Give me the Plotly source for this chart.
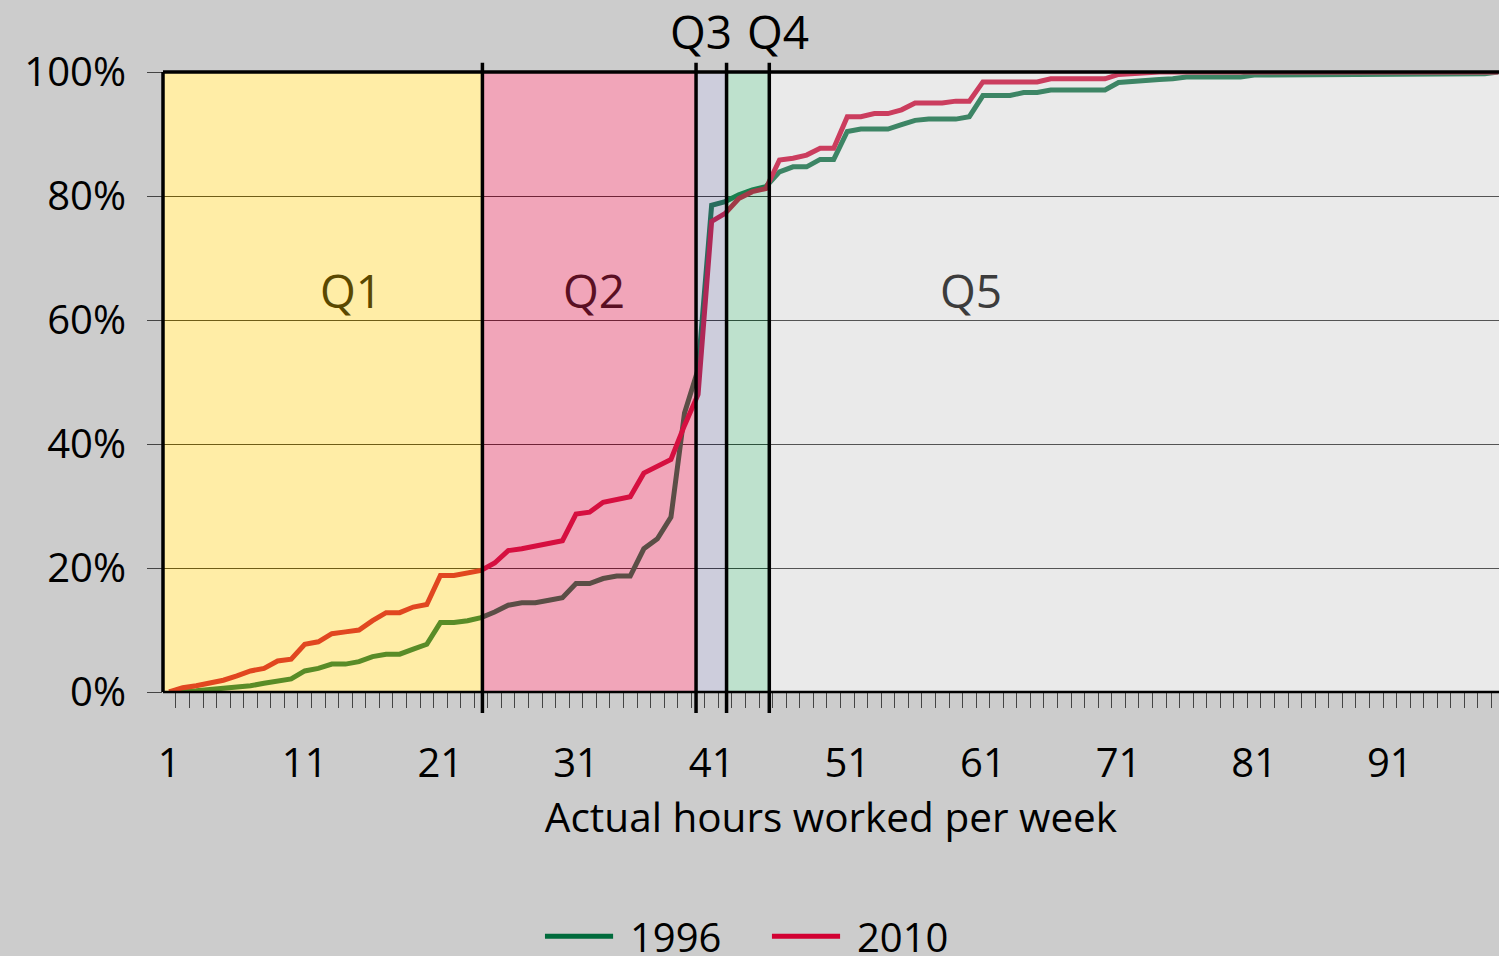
import plotly.graph_objects as go

# hours worked per week (1..99) and cumulative share of workers (%)
hours = list(range(1, 100))

share_1996 = [
    0, 0, 0.2, 0.4, 0.6, 0.6, 1.0, 1.4, 1.8, 2.1,
    3.4, 3.8, 4.5, 4.5, 4.9, 5.7, 6.1, 6.1, 6.9, 7.7,
    11.2, 11.2, 11.5, 12.0, 12.9, 14.0, 14.4, 14.4, 14.8, 15.2,
    17.5, 17.5, 18.3, 18.7, 18.7, 23.1, 24.7, 28.2, 45.0, 52.0,
    78.5, 79.1, 80.2, 81.0, 81.5, 83.9, 84.7, 84.7, 85.9, 85.9,
    90.4, 90.8, 90.8, 90.8, 91.5, 92.2, 92.4, 92.4, 92.4, 92.8,
    96.2, 96.2, 96.2, 96.7, 96.7, 97.1, 97.1, 97.1, 97.1, 97.1,
    98.3, 98.5, 98.8, 98.8, 98.9, 99.2, 99.2, 99.2, 99.2, 99.2,
    99.5, 99.5, 99.5, 99.5, 99.5, 99.5, 99.5, 99.5, 99.5, 99.5,
    99.5, 99.7, 99.7, 99.7, 99.7, 99.7, 99.7, 99.7, 100,
]

share_2010 = [
    0, 0.7, 1.0, 1.4, 1.9, 2.6, 3.4, 3.8, 5.0, 5.3,
    7.7, 8.1, 9.4, 9.7, 10.0, 11.5, 12.8, 12.8, 13.7, 14.1,
    18.8, 18.8, 19.1, 19.6, 20.8, 22.8, 23.1, 23.5, 24.0, 24.4,
    28.7, 29.0, 30.6, 31.0, 31.5, 35.3, 36.3, 37.5, 43.0, 48.0,
    75.9, 77.2, 79.6, 80.7, 81.2, 85.8, 86.1, 86.6, 87.7, 87.7,
    92.8, 92.8, 93.3, 93.3, 93.9, 95.0, 95.0, 95.0, 95.3, 95.3,
    98.4, 98.4, 98.4, 98.4, 98.4, 98.9, 98.9, 98.9, 98.9, 98.9,
    99.6, 99.8, 99.9, 100, 100, 100, 100, 100, 100, 100,
    100, 100, 100, 100, 100, 100, 100, 100, 100, 100,
    100, 100, 100, 100, 100, 100, 100, 100, 100,
]

# quintile boundaries (hours)
quintile_edges = [0.55, 24.1, 39.85, 42.1, 45.25, 99.05]
quintile_fills = [
    "rgba(255,204,0,0.35)",
    "rgba(220,37,85,0.41)",
    "rgba(111,111,154,0.35)",
    "rgba(69,169,111,0.35)",
    "rgba(189,189,189,0.32)",
]

series_names = ["1996", "2010"]
series_colors = ["#006B3C", "#D20032"]

FONT = "Open Sans"

fig = go.Figure()
for name, ys, col in zip(series_names, [share_1996, share_2010], series_colors):
    fig.add_trace(go.Scatter(x=hours, y=ys, name=name, mode="lines",
                             line=dict(color=col, width=5), showlegend=False))

# translucent quintile bands laid over the lines
for i, fill in enumerate(quintile_fills):
    fig.add_shape(type="rect", xref="x", yref="y", layer="above",
                  x0=quintile_edges[i], x1=quintile_edges[i + 1], y0=0, y1=100,
                  fillcolor=fill, line=dict(width=0))

# frame
fig.add_shape(type="line", xref="paper", yref="paper", layer="above",
              x0=0, x1=1, y0=1, y1=1, line=dict(color="black", width=3.5))
fig.add_shape(type="line", xref="paper", yref="paper", layer="above",
              x0=0, x1=0, y0=0, y1=1, line=dict(color="black", width=3.5))
fig.add_shape(type="line", xref="paper", yref="paper", layer="above",
              x0=0, x1=1, y0=0, y1=0, line=dict(color="black", width=2.5))

# boundary lines
for edge in quintile_edges[1:-1]:
    fig.add_shape(type="line", xref="x", yref="paper", layer="above",
                  x0=edge, x1=edge, y0=-0.034, y1=1.015,
                  line=dict(color="black", width=3.5))

# quintile labels
inside = {"Q1": (14.4, "#5A4800"), "Q2": (32.3, "#5A0F23"), "Q5": (60.1, "#3C3C3C")}
for lab, (xpos, col) in inside.items():
    fig.add_annotation(x=xpos, y=64.8, text=lab, showarrow=False,
                       font=dict(family=FONT, size=46, color=col))
fig.add_annotation(x=40.2, y=1.0, yref="paper", yanchor="bottom", yshift=8,
                   text="Q3", showarrow=False, font=dict(family=FONT, size=46, color="black"))
fig.add_annotation(x=45.9, y=1.0, yref="paper", yanchor="bottom", yshift=8,
                   text="Q4", showarrow=False, font=dict(family=FONT, size=46, color="black"))

# legend below the axis title (long line keys as in the original)
legend_y = -0.394
legend_x = [0.2859, 0.4558]
for name, col, lx in zip(series_names, series_colors, legend_x):
    fig.add_shape(type="line", xref="paper", yref="paper", layer="above",
                  x0=lx, x1=lx + 0.051, y0=legend_y, y1=legend_y,
                  line=dict(color=col, width=5))
    fig.add_annotation(x=lx + 0.062, y=legend_y, xref="paper", yref="paper",
                       xanchor="left", yanchor="middle", text=name, showarrow=False,
                       font=dict(family=FONT, size=40, color="black"))

fig.update_layout(
    width=1499, height=956,
    margin=dict(l=163, r=0, t=72, b=264),
    paper_bgcolor="#CCCCCC",
    plot_bgcolor="white",
    font=dict(family=FONT, size=40, color="black"),
    showlegend=False,
    xaxis=dict(
        range=[0.55, 99.05],
        tickmode="array", tickvals=list(range(1, 100, 10)),
        ticks="", showgrid=False, zeroline=False, showline=False,
        ticklabelstandoff=44,
        minor=dict(tickmode="linear", tick0=0.5, dtick=1, ticks="outside",
                   ticklen=15, tickcolor="#444", tickwidth=1, showgrid=False),
        title=dict(text="Actual hours worked per week", standoff=12,
                   font=dict(size=40.5)),
    ),
    yaxis=dict(
        range=[0, 100], dtick=20, ticksuffix="%",
        ticks="outside", ticklen=15, tickcolor="#444", tickwidth=1,
        ticklabelstandoff=13,
        showgrid=True, gridcolor="#222", gridwidth=1,
        zeroline=False, showline=False,
    ),
)

fig.write_html(
    "out.html",
    config={"displayModeBar": False},
    post_script="document.body.style.margin='0';document.body.style.background='#CCCCCC';",
)
